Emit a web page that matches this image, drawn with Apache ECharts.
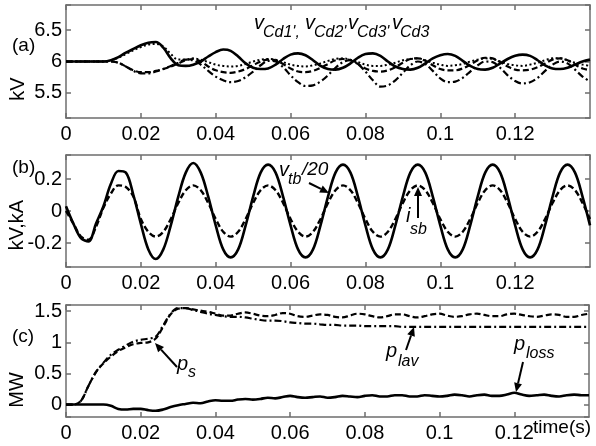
<!DOCTYPE html>
<html>
<head>
<meta charset="utf-8">
<script src="https://cdn.jsdelivr.net/npm/echarts@6/dist/echarts.min.js"></script>
<style>
  html, body { margin: 0; padding: 0; background: #fff; }
  #chart { width: 596px; height: 446px; }
</style>
</head>
<body>
<div id="chart"></div>
<script>
// sample step of the traces (s), read every 2 ms from 0 to 0.14
const T_STEP = 0.002;

// (a) capacitor voltages, kV
const vCd1p = [6.0, 6.0, 6.0, 6.0, 6.0, 6.0, 6.02, 6.07, 6.14, 6.2,
  6.26, 6.3, 6.31, 6.22, 6.05, 5.94, 5.93, 5.95, 6.0, 6.08,
  6.15, 6.19, 6.17, 6.08, 5.97, 5.9, 5.88, 5.89, 5.95, 6.04,
  6.11, 6.13, 6.1, 6.02, 5.93, 5.88, 5.87, 5.9, 5.97, 6.06,
  6.12, 6.13, 6.09, 6.0, 5.92, 5.88, 5.87, 5.9, 5.97, 6.05,
  6.1, 6.12, 6.09, 6.01, 5.93, 5.88, 5.87, 5.9, 5.97, 6.04,
  6.09, 6.11, 6.09, 6.02, 5.94, 5.89, 5.88, 5.9, 5.95, 6.0,
  6.03];
const vCd2p = [6.0, 6.0, 6.0, 6.0, 6.0, 6.0, 6.02, 6.06, 6.12, 6.18,
  6.23, 6.27, 6.28, 6.24, 6.12, 6.03, 6.03, 6.05, 6.03, 5.99,
  5.95, 5.93, 5.92, 5.93, 5.96, 6.0, 6.03, 6.04, 6.03, 5.99,
  5.95, 5.93, 5.92, 5.94, 5.97, 6.01, 6.04, 6.05, 6.03, 5.99,
  5.95, 5.93, 5.93, 5.95, 5.98, 6.02, 6.04, 6.05, 6.02, 5.98,
  5.95, 5.93, 5.94, 5.96, 6.0, 6.03, 6.05, 6.04, 6.0, 5.96,
  5.94, 5.93, 5.95, 5.98, 6.02, 6.05, 6.05, 6.02, 5.98, 5.95,
  5.93];
const vCd3p = [6.0, 6.0, 6.0, 6.0, 6.0, 6.0, 6.0, 5.98, 5.92, 5.86,
  5.83, 5.83, 5.85, 5.88, 5.92, 5.97, 6.02, 6.04, 6.0, 5.92,
  5.86, 5.83, 5.82, 5.84, 5.88, 5.94, 6.0, 6.03, 6.02, 5.96,
  5.89, 5.84, 5.83, 5.85, 5.9, 5.96, 6.02, 6.04, 6.02, 5.96,
  5.89, 5.85, 5.84, 5.86, 5.91, 5.98, 6.04, 6.05, 6.01, 5.94,
  5.88, 5.86, 5.86, 5.89, 5.95, 6.02, 6.06, 6.05, 5.99, 5.92,
  5.87, 5.86, 5.87, 5.91, 5.97, 6.03, 6.05, 6.02, 5.95, 5.89,
  5.86];
const vCd3 = [6.0, 6.0, 6.0, 6.0, 6.0, 6.0, 6.0, 5.98, 5.92, 5.85,
  5.81, 5.81, 5.84, 5.88, 5.93, 5.98, 6.03, 6.02, 5.95, 5.85,
  5.76, 5.7, 5.67, 5.69, 5.75, 5.84, 5.94, 6.01, 6.0, 5.91,
  5.78, 5.67, 5.61, 5.62, 5.68, 5.78, 5.9, 5.99, 6.02, 5.96,
  5.84, 5.7, 5.6, 5.62, 5.7, 5.82, 5.94, 6.0, 5.96, 5.85,
  5.73, 5.67, 5.68, 5.74, 5.84, 5.94, 6.0, 5.99, 5.9, 5.78,
  5.69, 5.65, 5.67, 5.74, 5.85, 5.95, 6.0, 5.97, 5.87, 5.76,
  5.68];

// (b) v_tb/20 (kV) and i_sb (kA)
const vtb20 = [0.03, -0.08, -0.17, -0.19, -0.08, 0.03, 0.17, 0.25, 0.24, 0.1,
  -0.08, -0.24, -0.3, -0.24, -0.09, 0.09, 0.24, 0.3, 0.24, 0.09,
  -0.09, -0.24, -0.29, -0.24, -0.09, 0.09, 0.24, 0.29, 0.24, 0.09,
  -0.09, -0.24, -0.29, -0.24, -0.09, 0.09, 0.24, 0.29, 0.24, 0.09,
  -0.09, -0.24, -0.29, -0.24, -0.09, 0.09, 0.24, 0.29, 0.24, 0.09,
  -0.09, -0.24, -0.29, -0.24, -0.09, 0.09, 0.24, 0.29, 0.24, 0.09,
  -0.09, -0.24, -0.29, -0.24, -0.09, 0.09, 0.24, 0.29, 0.24, 0.09,
  -0.09];
const isb = [0.0, -0.08, -0.16, -0.18, -0.1, 0.02, 0.11, 0.16, 0.15, 0.09,
  -0.05, -0.13, -0.16, -0.13, -0.05, 0.05, 0.13, 0.16, 0.13, 0.05,
  -0.05, -0.13, -0.16, -0.13, -0.05, 0.05, 0.13, 0.16, 0.13, 0.05,
  -0.05, -0.13, -0.16, -0.13, -0.05, 0.05, 0.13, 0.16, 0.13, 0.05,
  -0.05, -0.13, -0.16, -0.13, -0.05, 0.05, 0.13, 0.16, 0.13, 0.05,
  -0.05, -0.13, -0.16, -0.13, -0.05, 0.05, 0.13, 0.16, 0.13, 0.05,
  -0.05, -0.13, -0.16, -0.13, -0.05, 0.05, 0.13, 0.16, 0.13, 0.05,
  -0.05];

// (c) powers, MW
const ps = [0, 0, 0.06, 0.3, 0.52, 0.66, 0.77, 0.86, 0.92, 0.97,
  0.99, 1.0, 1.06, 1.25, 1.45, 1.54, 1.55, 1.53, 1.51, 1.49,
  1.46, 1.43, 1.43, 1.46, 1.48, 1.46, 1.43, 1.42, 1.44, 1.47,
  1.46, 1.42, 1.41, 1.43, 1.45, 1.44, 1.41, 1.4, 1.43, 1.46,
  1.45, 1.42, 1.4, 1.42, 1.45, 1.45, 1.42, 1.4, 1.42, 1.45,
  1.46, 1.43, 1.41, 1.42, 1.45, 1.46, 1.44, 1.42, 1.42, 1.45,
  1.46, 1.44, 1.42, 1.41, 1.43, 1.45, 1.44, 1.41, 1.41, 1.44,
  1.46];
const plav = [0, 0, 0.06, 0.3, 0.52, 0.67, 0.8, 0.88, 0.95, 1.01,
  1.04, 1.06, 1.09, 1.27, 1.46, 1.55, 1.55, 1.52, 1.49, 1.46,
  1.44, 1.42, 1.41, 1.41, 1.4, 1.38, 1.36, 1.35, 1.35, 1.34,
  1.32, 1.31, 1.3, 1.3, 1.29, 1.28, 1.28, 1.27, 1.27, 1.27,
  1.26, 1.26, 1.26, 1.26, 1.26, 1.25, 1.25, 1.25, 1.25, 1.25,
  1.25, 1.25, 1.25, 1.25, 1.25, 1.25, 1.25, 1.25, 1.25, 1.25,
  1.25, 1.25, 1.25, 1.25, 1.25, 1.25, 1.25, 1.25, 1.25, 1.25,
  1.25];
const ploss = [0, 0, 0, 0, 0, 0, -0.02, -0.07, -0.08, -0.07,
  -0.07, -0.09, -0.1, -0.08, -0.04, -0.01, 0.01, 0.03, 0.02, 0.05,
  0.07, 0.06, 0.06, 0.08, 0.09, 0.08, 0.09, 0.11, 0.1, 0.12,
  0.14, 0.12, 0.11, 0.12, 0.13, 0.11, 0.12, 0.14, 0.13, 0.12,
  0.14, 0.15, 0.13, 0.13, 0.15, 0.15, 0.13, 0.13, 0.15, 0.14,
  0.13, 0.14, 0.16, 0.15, 0.13, 0.15, 0.16, 0.14, 0.14, 0.16,
  0.19, 0.16, 0.14, 0.15, 0.16, 0.14, 0.13, 0.15, 0.16, 0.15,
  0.15];

const xTicks = [0, 0.02, 0.04, 0.06, 0.08, 0.1, 0.12];

const FONT = 'Liberation Sans';
const frame = { color: '#6e6e6e', width: 1.5 };

function pairs(arr) {
  return arr.map((v, i) => [+(i * T_STEP).toFixed(3), v]);
}

function xAxes(g) {
  const base = {
    type: 'value', gridIndex: g, min: 0, max: 0.14, interval: 0.02,
    axisLine: { show: true, onZero: false, lineStyle: frame },
    axisTick: { show: true, inside: true, length: 5, lineStyle: frame },
    splitLine: { show: false }
  };
  return [
    Object.assign({}, base, {
      position: 'bottom',
      axisLabel: {
        margin: 6, color: '#000', fontSize: 20, fontFamily: FONT,
        showMaxLabel: false,
        formatter: v => xTicks.some(t => Math.abs(t - v) < 1e-9) ? String(+v.toFixed(2)) : ''
      }
    }),
    Object.assign({}, base, { position: 'top', axisLabel: { show: false } })
  ];
}

function yAxes(g, min, max, step) {
  const base = {
    type: 'value', gridIndex: g, min: min, max: max,
    minInterval: step, maxInterval: step,
    axisLine: { show: true, onZero: false, lineStyle: frame },
    axisTick: { show: true, inside: true, length: 5, lineStyle: frame },
    splitLine: { show: false }
  };
  return [
    Object.assign({}, base, {
      position: 'left',
      axisLabel: {
        margin: 4, color: '#000', fontSize: 20, fontFamily: FONT,
        formatter: v => {
          const k = v / step;
          return Math.abs(k - Math.round(k)) < 1e-6 ? String(+v.toFixed(2)) : '';
        }
      }
    }),
    Object.assign({}, base, { position: 'right', axisLabel: { show: false } })
  ];
}

function line(data, g, type, width) {
  return {
    type: 'line', data: pairs(data),
    xAxisIndex: g * 2, yAxisIndex: g * 2,
    showSymbol: false, smooth: 0.35, animation: false,
    lineStyle: { color: '#000', width: width, type: type }
  };
}

function txt(x, y, s, size, italic, rot) {
  return {
    type: 'text', x: x, y: y, rotation: rot || 0, z: 100,
    style: {
      text: s, fill: '#000', fontSize: size, fontFamily: FONT,
      fontStyle: italic ? 'italic' : 'normal',
      align: rot ? 'center' : 'left', verticalAlign: 'middle'
    }
  };
}

function arrow(x1, y1, x2, y2) {
  const a = Math.atan2(y2 - y1, x2 - x1), L = 9, W = 4;
  const bx = x2 - L * Math.cos(a), by = y2 - L * Math.sin(a);
  return [
    { type: 'line', z: 100, shape: { x1: x1, y1: y1, x2: bx, y2: by }, style: { stroke: '#000', lineWidth: 2 } },
    { type: 'polygon', z: 100, shape: { points: [[x2, y2], [bx + W * Math.sin(a), by - W * Math.cos(a)], [bx - W * Math.sin(a), by + W * Math.cos(a)]] }, style: { fill: '#000' } }
  ];
}

const DASH = [6, 3], DOT = [2, 2.5], DASHDOT = [7, 3, 2, 3];

const chart = echarts.init(document.getElementById('chart'));
chart.setOption({
  animation: false,
  backgroundColor: '#fff',
  grid: [
    { left: 66, top: 5, width: 524, height: 113 },
    { left: 66, top: 155, width: 524, height: 112 },
    { left: 66, top: 305, width: 523, height: 112 }
  ],
  xAxis: [].concat(xAxes(0), xAxes(1), xAxes(2)),
  yAxis: [].concat(yAxes(0, 5.1, 6.9, 0.5), yAxes(1, -0.35, 0.35, 0.2), yAxes(2, -0.2, 1.6, 0.5)),
  series: [
    line(vCd2p, 0, DOT, 2),
    line(vCd3p, 0, DASH, 2.2),
    line(vCd3, 0, DASHDOT, 2.2),
    line(vCd1p, 0, 'solid', 2.6),
    line(isb, 1, DASH, 2.4),
    line(vtb20, 1, 'solid', 2.6),
    line(plav, 2, DASHDOT, 2.2),
    line(ps, 2, DASH, 2.2),
    line(ploss, 2, 'solid', 2.6)
  ],
  graphic: [
    txt(12, 46, '(a)', 19), txt(12, 168, '(b)', 19), txt(12, 337, '(c)', 19),
    txt(18, 89, 'kV', 20, false, Math.PI / 2),
    txt(17, 225, 'kV,kA', 20, false, Math.PI / 2),
    txt(17, 390, 'MW', 20, false, Math.PI / 2),
    txt(254, 23, 'v', 20, true), txt(263, 33, "Cd1',", 16, true),
    txt(305, 23, 'v', 20, true), txt(314, 33, "Cd2'", 16, true),
    txt(348, 23, 'v', 20, true), txt(357, 33, "Cd3'", 16, true),
    txt(392, 23, 'v', 20, true), txt(400, 33, 'Cd3', 16, true),
    txt(279, 170, 'v', 20, true), txt(288, 180, 'tb', 16, true), txt(302, 170, '/20', 19, true),
    txt(406, 216, 'i', 20, true), txt(410, 230, 'sb', 16, true),
    txt(177, 364, 'p', 20, true), txt(188, 373, 's', 16, true),
    txt(386, 351, 'p', 20, true), txt(398, 362, 'lav', 16, true),
    txt(514, 344, 'p', 20, true), txt(526, 354, 'loss', 16, true),
    txt(533, 428, 'time(s)', 19)
  ].concat(
    arrow(309, 183, 329, 193),
    arrow(418, 218, 418, 187),
    arrow(177, 367, 155, 343),
    arrow(406, 350, 414, 327),
    arrow(523, 362, 516, 392)
  )
});
</script>
</body>
</html>
